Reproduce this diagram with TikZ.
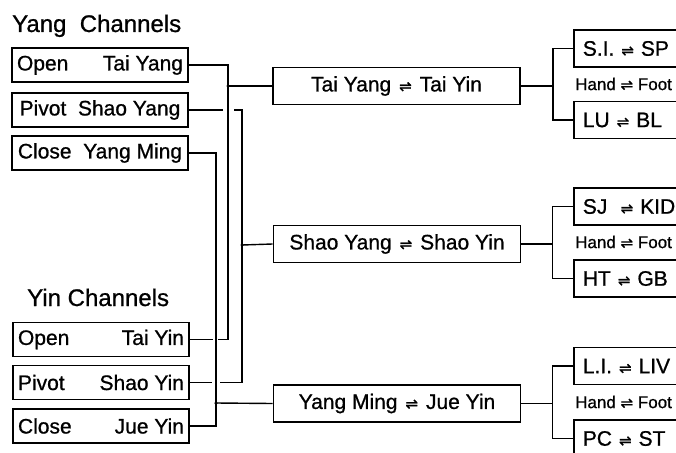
\documentclass[tikz,border=0pt]{standalone}
\usepackage{fontspec}
\setmainfont{Liberation Sans}[FakeBold=0.8]
\newfontfamily\symf{DejaVu Sans}[FakeBold=0.8]
\newcommand{\hpn}{{\symf\fontsize{15}{15}\selectfont ⇌}}
\begin{document}
\begin{tikzpicture}[x=1pt,y=-1pt,
  lbox/.style={draw,line width=1.7pt,minimum width=176pt,minimum height=34pt,inner xsep=5pt,inner ysep=0pt,font=\fontsize{21}{21}\selectfont},
  mbox/.style={draw,line width=1.7pt,minimum width=247pt,minimum height=37pt,inner sep=0pt,font=\fontsize{21}{21}\selectfont},
  rbox/.style={draw,line width=1.7pt,anchor=west,text width=122pt,inner xsep=9pt,inner ysep=0pt,minimum height=37pt,align=left,font=\fontsize{21}{21}\selectfont},
  ttl/.style={anchor=base west,inner sep=0pt,font=\fontsize{24}{24}\selectfont},
  hand/.style={anchor=west,inner sep=0pt,font=\fontsize{17}{17}\selectfont},
  conn/.style={line width=1.4pt},
  dot/.style={fill,circle,inner sep=0pt,minimum size=3.5pt}]
\clip (0,0) rectangle (676,452);
% titles
\node[ttl] (yangT) at (12,32) {Yang\ \ Channels};
\node[ttl] (yinT) at (27,306) {Yin Channels};
% left boxes
\node[lbox] (l1) at (100,65) {\makebox[166pt]{Open\hfill Tai Yang}};
\node[lbox] (l2) at (100,110) {\makebox[166pt]{Pivot\ \ Shao Yang}};
\node[lbox] (l3) at (100,153) {\makebox[166pt]{Close\ \ Yang Ming}};
\node[lbox] (l4) at (101,339.5) {\makebox[166pt]{Open\hfill Tai Yin}};
\node[lbox] (l5) at (101,382.5) {\makebox[166pt]{Pivot\hfill Shao Yin}};
\node[lbox] (l6) at (101,426) {\makebox[166pt]{Close\hfill Jue Yin}};
% middle boxes
\node[mbox] (m1) at (396.5,86) {Tai Yang\hspace{0.1em} \hpn\hspace{0.1em} Tai Yin};
\node[mbox] (m2) at (397,244) {Shao Yang\hspace{0.1em} \hpn\hspace{0.1em} Shao Yin};
\node[mbox] (m3) at (397,403.5) {Yang Ming\hspace{0.1em} \hpn\hspace{0.1em} Jue Yin};
% right boxes
\node[rbox] (r1) at (573,48.5) {S.I. \hpn{} SP};
\node[rbox] (r2) at (573,120) {LU \hpn{} BL};
\node[rbox] (r3) at (573,206.5) {SJ\hspace{0.3em} \hpn{} KID};
\node[rbox] (r4) at (573,278.5) {HT \hpn{} GB};
\node[rbox] (r5) at (573,366) {L.I. \hpn{} LIV};
\node[rbox] (r6) at (573,438.5) {PC \hpn{} ST};
% hand-foot labels
\node[hand] (h1) at (575,84) {Hand \hpn{} Foot};
\node[hand] (h2) at (575,242) {Hand \hpn{} Foot};
\node[hand] (h3) at (575,402) {Hand \hpn{} Foot};
% junctions
\node[dot] (j1) at (228,86) {};
\node[dot] (j2) at (242,245) {};
\node[dot] (j3) at (216,403) {};
% Tai Yang / Tai Yin
\draw[conn] (l1.east) -| (j1.center |- l4.east) -- ++(-10,0);
\draw[conn] (l4.east) -- ++(23,0);
\draw[conn] (j1.center) -- (m1.west);
% Shao Yang / Shao Yin
\draw[conn] (l2.east) -- ++(34,0);
\draw[conn] ([xshift=-8pt]j2.center |- l2.east) -| (j2.center |- l5.east) -- ++(-22,0);
\draw[conn] (l5.east) -- ++(22,0);
\draw[conn] (j2.center) -- (m2.west);
% Yang Ming / Jue Yin
\draw[conn] (l3.east) -| (j3.center |- l6.east) -- (l6.east);
\draw[conn] (j3.center) -- (m3.west);
% right branches
\draw[conn] (m1.east) -- ++(32,0) coordinate (b1);
\draw[conn] (r1.west) -| (b1) |- (r2.west);
\draw[conn] (m2.east) -- ++(31,0) coordinate (b2);
\draw[conn] (r3.west) -| (b2) |- (r4.west);
\draw[conn] (m3.east) -- ++(31,0) coordinate (b3);
\draw[conn] (r5.west) -| (b3) |- (r6.west);
\end{tikzpicture}
\end{document}
